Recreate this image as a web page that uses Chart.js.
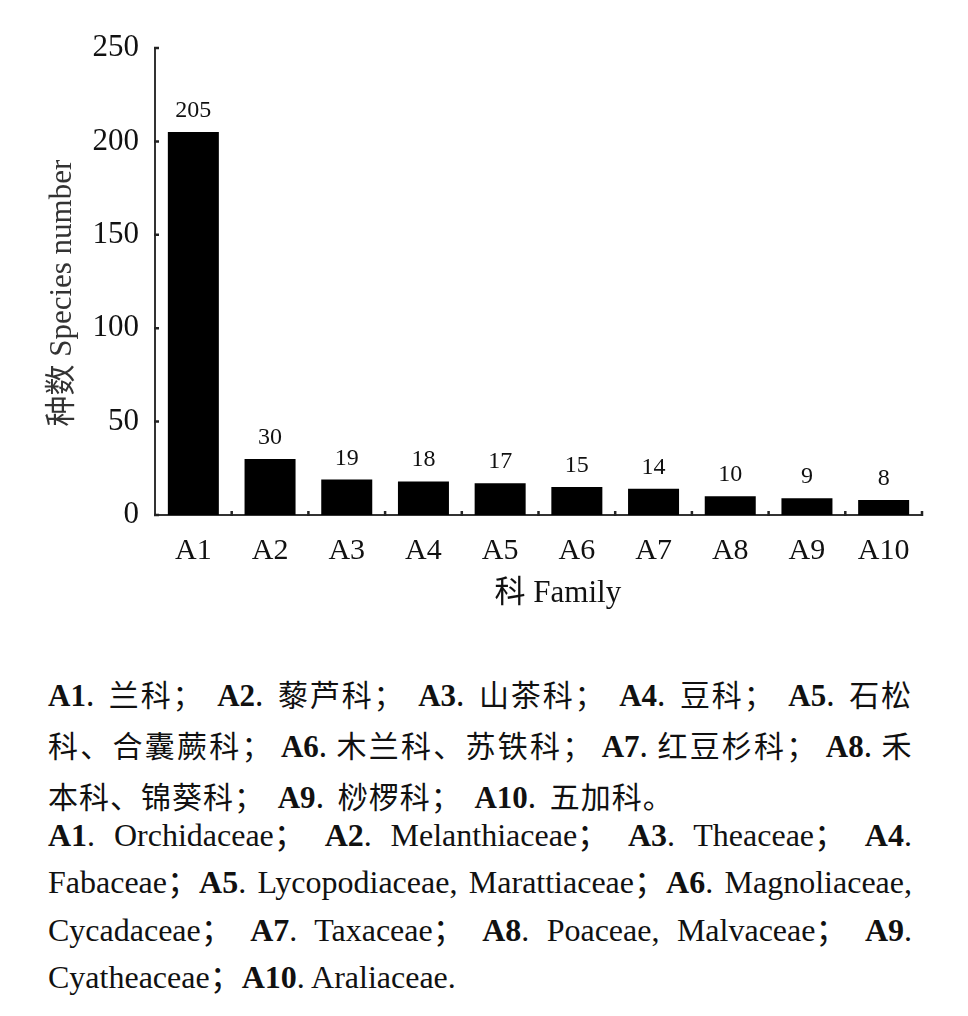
<!DOCTYPE html>
<html>
<head>
<meta charset="utf-8">
<script src="https://cdn.jsdelivr.net/npm/chart.js@4"></script>
<style>
  html, body { margin:0; padding:0; background:#fff; }
  body { width:968px; height:1016px; position:relative; overflow:hidden; }
  #wrap { position:absolute; left:0; top:0; width:968px; height:630px; }
  .cap { position:absolute; left:48px; width:864px; color:#111; }
  .zh { top:669px; font-family:"Noto Sans CJK SC", sans-serif; font-size:30px; line-height:48px; letter-spacing:1px; word-spacing:5px; }
  .zh .tight { word-spacing:0; letter-spacing:0.5px; }
  .en { top:812px; font-family:"Liberation Serif", "Noto Sans CJK SC", serif; font-size:32px; line-height:47.3px; }
  .ln { text-align:justify; text-align-last:justify; white-space:nowrap; }
  .ln.last { text-align:left; text-align-last:left; }
  b { font-family:"Liberation Serif", serif; font-weight:bold; letter-spacing:0; }
  .zh b { font-size:31px; }
</style>
</head>
<body>
<div id="wrap"><canvas id="c"></canvas></div>

<div class="cap zh">
  <div class="ln"><b>A1</b>. 兰科； <b>A2</b>. 藜芦科； <b>A3</b>. 山茶科； <b>A4</b>. 豆科； <b>A5</b>. 石松</div>
  <div class="ln tight">科、合囊蕨科； <b>A6</b>. 木兰科、苏铁科； <b>A7</b>. 红豆杉科； <b>A8</b>. 禾</div>
  <div class="ln last">本科、锦葵科； <b>A9</b>. 桫椤科； <b>A10</b>. 五加科。</div>
</div>
<div class="cap en">
  <div class="ln"><b>A1</b>. Orchidaceae； <b>A2</b>. Melanthiaceae； <b>A3</b>. Theaceae； <b>A4</b>.</div>
  <div class="ln">Fabaceae；<b>A5</b>. Lycopodiaceae, Marattiaceae；<b>A6</b>. Magnoliaceae,</div>
  <div class="ln">Cycadaceae； <b>A7</b>. Taxaceae； <b>A8</b>. Poaceae, Malvaceae； <b>A9</b>.</div>
  <div class="ln last">Cyatheaceae；<b>A10</b>. Araliaceae.</div>
</div>

<script>
const categories = ["A1","A2","A3","A4","A5","A6","A7","A8","A9","A10"];
const speciesCounts = [205, 30, 19, 18, 17, 15, 14, 10, 9, 8];
const yTicks = [0, 50, 100, 150, 200, 250];
const xTitle = "科 Family";
const yTitle = "种数 Species number";

const SERIF = '"Liberation Serif", "Noto Sans CJK SC", serif';

const valueLabels = {
  id: 'valueLabels',
  afterDatasetsDraw(chart) {
    const ctx = chart.ctx;
    const meta = chart.getDatasetMeta(0);
    ctx.save();
    ctx.font = '24px ' + SERIF;
    ctx.fillStyle = '#111';
    ctx.textAlign = 'center';
    ctx.textBaseline = 'alphabetic';
    meta.data.forEach((bar, i) => {
      ctx.fillText(String(speciesCounts[i]), bar.x, bar.y - 15);
    });
    ctx.restore();
  }
};

const innerTicks = {
  id: 'innerTicks',
  afterDraw(chart) {
    const ctx = chart.ctx;
    const xs = chart.scales.x, ys = chart.scales.y;
    ctx.save();
    ctx.strokeStyle = '#222';
    ctx.lineWidth = 2.5;
    ctx.beginPath();
    ys.ticks.forEach(t => {
      const py = ys.getPixelForValue(t.value);
      ctx.moveTo(xs.left - 1, py);
      ctx.lineTo(xs.left + 4, py);
    });
    const n = categories.length;
    for (let i = 0; i < n; i++) {
      const px = i < n - 1 ? (xs.getPixelForValue(i) + xs.getPixelForValue(i + 1)) / 2 : xs.right;
      ctx.moveTo(px, ys.bottom + 1);
      ctx.lineTo(px, ys.bottom - 4);
    }
    ctx.stroke();
    ctx.restore();
  }
};

new Chart(document.getElementById('c'), {
  type: 'bar',
  data: {
    labels: categories,
    datasets: [{
      data: speciesCounts,
      backgroundColor: '#000',
      borderWidth: 0,
      barPercentage: 0.665,
      categoryPercentage: 1.0
    }]
  },
  options: {
    responsive: true,
    maintainAspectRatio: false,
    animation: false,
    layout: { padding: { left: 0, right: 46, top: 48, bottom: 0 } },
    plugins: { legend: { display: false }, tooltip: { enabled: false } },
    scales: {
      x: {
        grid: { display: false },
        border: { display: true, color: '#333', width: 2 },
        ticks: { color: '#111', font: { family: SERIF, size: 30 }, padding: 10, maxRotation: 0, autoSkip: false },
        title: { display: true, text: '     ' + xTitle, color: '#111', font: { family: SERIF, size: 31 }, padding: { top: 0, bottom: 18 } },
        afterFit(scale) { scale.height = 115; }
      },
      y: {
        min: 0, max: 250,
        afterBuildTicks(scale) { scale.ticks = yTicks.map(v => ({ value: v })); },
        grid: { display: false },
        border: { display: true, color: '#333', width: 2 },
        ticks: { color: '#111', font: { family: SERIF, size: 31 }, padding: 8 },
        title: { display: true, text: yTitle + '   ', color: '#333', font: { family: SERIF, size: 31 }, padding: { top: 44, bottom: 0 } },
        afterFit(scale) { scale.width = 155; }
      }
    }
  },
  plugins: [valueLabels, innerTicks]
});
</script>
</body>
</html>
